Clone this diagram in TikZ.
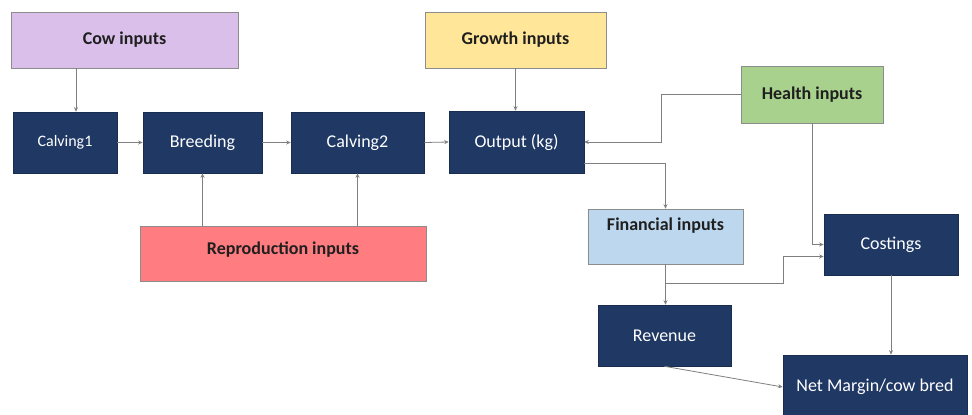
\documentclass[tikz,border=0pt]{standalone}
\usepackage{fontspec}
\setmainfont{Carlito}
\usetikzlibrary{arrows.meta,calc}
\definecolor{navy}{HTML}{1F3864}
\definecolor{cowfill}{HTML}{D9BFEA}
\definecolor{growfill}{HTML}{FFE699}
\definecolor{healthfill}{HTML}{A9D18E}
\definecolor{reprofill}{HTML}{FF7C80}
\definecolor{finfill}{HTML}{BDD7EE}
\definecolor{edgegray}{HTML}{8C8C8C}
\definecolor{linegray}{HTML}{7F7F7F}
\tikzset{
  stage/.style={fill=navy, draw=navy!80!black, line width=0.6pt, text=white,
    inner sep=0pt, font=\fontsize{18}{20}\selectfont},
  inputbox/.style={draw=edgegray, line width=0.6pt, text=black!88,
    inner sep=0pt, font=\fontsize{18}{20}\selectfont\bfseries},
  arr/.style={draw=linegray, line width=0.8pt,
    -{Stealth[length=4.5pt,width=4pt]}}
}
\begin{document}
\begin{tikzpicture}[x=1pt,y=-1pt]
\useasboundingbox (0,0) rectangle (972,415);

% input boxes
\node[inputbox, fill=cowfill, minimum width=227pt, minimum height=56pt] (cow) at (124.5,40) {Cow inputs};
\node[inputbox, fill=growfill, minimum width=181pt, minimum height=56pt] (grow) at (515.5,40) {Growth inputs};
\node[inputbox, fill=healthfill, minimum width=142pt, minimum height=57pt] (health) at (812,94.5) {Health inputs};
\node[inputbox, fill=reprofill, minimum width=286pt, minimum height=55pt] (repro) at (283,253.5) {\raisebox{11pt}{Reproduction inputs}};
\node[inputbox, fill=finfill, minimum width=155pt, minimum height=55pt] (fin) at (665.5,236.5) {\raisebox{24pt}{Financial inputs}};

% model stages
\node[stage, minimum width=104pt, minimum height=61pt, font=\fontsize{16}{18}\selectfont] (c1) at (65,142.5) {Calving1};
\node[stage, minimum width=119pt, minimum height=61pt] (breed) at (202.5,142.5) {Breeding};
\node[stage, minimum width=133pt, minimum height=61pt] (c2) at (357.5,142.5) {Calving2};
\node[stage, minimum width=135pt, minimum height=62pt] (out) at (516.5,142) {Output (kg)};
\node[stage, minimum width=134pt, minimum height=61pt] (cost) at (891,244.5) {Costings};
\node[stage, minimum width=133pt, minimum height=61pt] (rev) at (664.5,335.5) {Revenue};
\node[stage, minimum width=184pt, minimum height=64pt] (net) at (875,387) {Net Margin/cow bred};

% helper points on the connectors
\coordinate (cowdrop) at ([xshift=11pt]c1.north);
\coordinate (split) at ([yshift=-19pt]fin.south);

% main chain
\draw[arr] (cowdrop |- cow.south) -- (cowdrop);
\draw[arr] (c1.east) -- (breed.west);
\draw[arr] (breed.east) -- (c2.west);
\draw[arr] (c2.east) -- (out.west);
\draw[arr] (grow.south) -- (grow.south |- out.north);
\draw[arr] (breed.south |- repro.north) -- (breed.south);
\draw[arr] (c2.south |- repro.north) -- (c2.south);

% health and financial links
\draw[arr] (health.west) -- ++(-79,0) |- (out.east);
\draw[arr] ([yshift=10pt]out.south east) -| (fin.north);
\draw[arr] (health.south) |- (cost.west);
\draw[arr] (fin.south) -- (fin.south |- rev.north);
\draw[arr] (split) -- ++(118,0) |- ([yshift=-12pt]cost.west);
\draw[arr] (cost.south) -- (cost.south |- net.north);
\draw[arr] (rev.south) -- (net.west);
\end{tikzpicture}
\end{document}
